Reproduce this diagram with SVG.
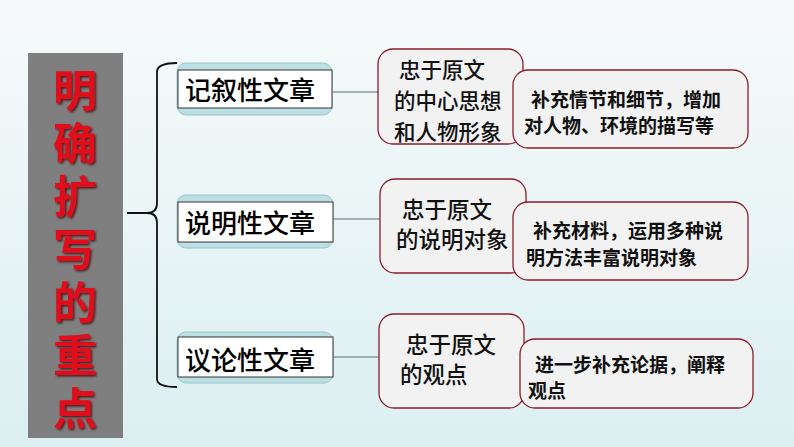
<svg xmlns="http://www.w3.org/2000/svg" width="794" height="447" viewBox="0 0 794 447">
<defs>
<linearGradient id="bg" x1="0" y1="0" x2="0" y2="1">
<stop offset="0" stop-color="#f7fafb"/>
<stop offset="1" stop-color="#dbeff1"/>
</linearGradient>
<filter id="sh" x="-20%" y="-20%" width="140%" height="140%">
<feDropShadow dx="1.5" dy="1.5" stdDeviation="1" flood-color="#3a0000" flood-opacity="0.8"/>
</filter>
<style>
.title{font-family:"Noto Sans CJK SC","Noto Sans CJK TC",sans-serif;font-size:44px;font-weight:700;fill:#e0101c;writing-mode:vertical-rl;letter-spacing:9px}
.cat-o{fill:#bcdfe4;stroke:#9cc4ca;stroke-width:1}
.cat-i{fill:#ffffff;stroke:#333333;stroke-width:1}
.cat-t{font-family:"Noto Sans CJK SC","Noto Sans CJK TC",sans-serif;font-size:26px;font-weight:500;fill:#000}
.box{fill:#f2f2f2;stroke:#8b1c2c;stroke-width:1.3}
.t2{font-family:"Noto Sans CJK SC","Noto Sans CJK TC",sans-serif;font-size:22.5px;font-weight:500;fill:#111}
.t2s{font-size:21.5px}
.t3{font-family:"Noto Sans CJK SC","Noto Sans CJK TC",sans-serif;font-size:19px;font-weight:700;fill:#111}
.conn{stroke:#8a9a9c;stroke-width:1.3;fill:none}
.brace{stroke:#111;stroke-width:1.8;fill:none}
</style>
</defs>
<rect x="0" y="0" width="794" height="447" fill="url(#bg)"/>

<g id="title">
<rect x="28" y="53" width="95" height="385" fill="#7f7f7f"/>
<text class="title" filter="url(#sh)" x="75" y="68">明确扩写的重点</text>
</g>

<g id="connectors">
<path class="brace" d="M177,63 Q157,63 157,72 L157,203 Q157,213 147,213 L127,213 M147,213 Q157,213 157,223 L157,379 Q157,387 177,387"/>
<line class="conn" x1="333" y1="92" x2="378" y2="92"/>
<line class="conn" x1="333" y1="219" x2="380" y2="219"/>
<line class="conn" x1="333" y1="357" x2="379" y2="357"/>
</g>

<g id="cat1">
<rect class="cat-o" x="177" y="63" width="155" height="52" rx="9"/>
<rect class="cat-i" x="178" y="70" width="154" height="38"/>
<text class="cat-t" x="185" y="100">记叙性文章</text>
</g>
<g id="cat2">
<rect class="cat-o" x="177" y="195" width="156" height="53" rx="9"/>
<rect class="cat-i" x="178" y="202" width="155" height="40"/>
<text class="cat-t" x="185" y="233">说明性文章</text>
</g>
<g id="cat3">
<rect class="cat-o" x="177" y="332" width="156" height="51" rx="9"/>
<rect class="cat-i" x="178" y="337" width="155" height="40"/>
<text class="cat-t" x="185" y="370">议论性文章</text>
</g>

<g id="faith1">
<rect class="box" x="378" y="49" width="145" height="95" rx="15"/>
<text class="t2 t2s" x="399" y="78">忠于原文</text>
<text class="t2 t2s" x="394" y="109">的中心思想</text>
<text class="t2 t2s" x="394" y="140">和人物形象</text>
</g>
<g id="detail1">
<rect class="box" x="513" y="70" width="235" height="78" rx="15"/>
<text class="t3" x="531" y="107">补充情节和细节，增加</text>
<text class="t3" x="524" y="133">对人物、环境的描写等</text>
</g>

<g id="faith2">
<rect class="box" x="380" y="179" width="146" height="94" rx="15"/>
<text class="t2" x="402" y="218">忠于原文</text>
<text class="t2" x="396" y="248">的说明对象</text>
</g>
<g id="detail2">
<rect class="box" x="513" y="202" width="235" height="78" rx="15"/>
<text class="t3" x="533" y="238">补充材料，运用多种说</text>
<text class="t3" x="526" y="265">明方法丰富说明对象</text>
</g>

<g id="faith3">
<rect class="box" x="379" y="314" width="145" height="94" rx="15"/>
<text class="t2" x="406" y="353">忠于原文</text>
<text class="t2" x="400" y="383">的观点</text>
</g>
<g id="detail3">
<rect class="box" x="520" y="339" width="233" height="69" rx="15"/>
<text class="t3" x="535" y="372">进一步补充论据，阐释</text>
<text class="t3" x="528" y="398">观点</text>
</g>
</svg>
